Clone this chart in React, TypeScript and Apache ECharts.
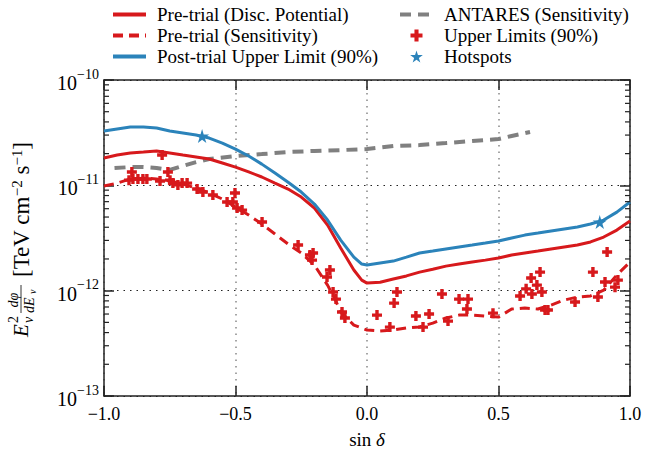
import React, { useEffect, useRef } from "react";
import * as echarts from "echarts";

// ---- data ----
const lineX = [-1.0, -0.95, -0.9, -0.85, -0.8, -0.75, -0.7, -0.65, -0.6, -0.55, -0.5, -0.45, -0.4, -0.35, -0.3, -0.25, -0.2, -0.15, -0.1, -0.05, -0.02, 0.0, 0.05, 0.1, 0.15, 0.2, 0.25, 0.3, 0.35, 0.4, 0.45, 0.5, 0.55, 0.6, 0.65, 0.7, 0.75, 0.8, 0.85, 0.9, 0.95, 1.0];
const postTrialUL = [3.28e-11, 3.43e-11, 3.58e-11, 3.58e-11, 3.5e-11, 3.28e-11, 3.14e-11, 3.0e-11, 2.81e-11, 2.52e-11, 2.21e-11, 1.9e-11, 1.59e-11, 1.31e-11, 1.07e-11, 8.63e-12, 6.64e-12, 4.68e-12, 3.02e-12, 2.08e-12, 1.79e-12, 1.75e-12, 1.83e-12, 1.91e-12, 2.08e-12, 2.28e-12, 2.38e-12, 2.49e-12, 2.6e-12, 2.71e-12, 2.83e-12, 2.96e-12, 3.16e-12, 3.37e-12, 3.52e-12, 3.68e-12, 3.85e-12, 4.02e-12, 4.29e-12, 4.68e-12, 5.57e-12, 6.94e-12];
const discPotential = [1.82e-11, 1.94e-11, 2.03e-11, 2.07e-11, 2.12e-11, 2.03e-11, 1.94e-11, 1.86e-11, 1.78e-11, 1.63e-11, 1.49e-11, 1.34e-11, 1.2e-11, 1.05e-11, 9.22e-12, 7.74e-12, 6.09e-12, 4.2e-12, 2.54e-12, 1.57e-12, 1.26e-12, 1.18e-12, 1.2e-12, 1.29e-12, 1.38e-12, 1.5e-12, 1.6e-12, 1.71e-12, 1.79e-12, 1.87e-12, 1.95e-12, 2.04e-12, 2.18e-12, 2.28e-12, 2.38e-12, 2.49e-12, 2.6e-12, 2.71e-12, 2.9e-12, 3.23e-12, 3.76e-12, 4.58e-12];

const sensX = [-1.0, -0.95, -0.9, -0.85, -0.8, -0.75, -0.7, -0.65, -0.6, -0.55, -0.5, -0.45, -0.4, -0.35, -0.3, -0.25, -0.2, -0.15, -0.12, -0.1, -0.05, 0.0, 0.05, 0.1, 0.15, 0.2, 0.25, 0.3, 0.35, 0.4, 0.45, 0.5, 0.55, 0.6, 0.65, 0.7, 0.75, 0.8, 0.85, 0.9, 0.95, 1.0];
const sensitivity = [9.85e-12, 1.05e-11, 1.15e-11, 1.17e-11, 1.15e-11, 1.1e-11, 1.03e-11, 9.42e-12, 8.45e-12, 7.41e-12, 6.22e-12, 5.22e-12, 4.29e-12, 3.45e-12, 2.77e-12, 2.28e-12, 1.75e-12, 1.13e-12, 8.15e-13, 6.27e-13, 4.71e-13, 4.23e-13, 4.15e-13, 4.23e-13, 4.42e-13, 4.52e-13, 4.92e-13, 5.5e-13, 5.86e-13, 5.86e-13, 5.73e-13, 5.61e-13, 6.69e-13, 6.85e-13, 6.69e-13, 7.3e-13, 8.15e-13, 8.7e-13, 8.9e-13, 1.01e-12, 1.41e-12, 1.87e-12];

const antaresX = [-0.96, -0.9, -0.85, -0.8, -0.75, -0.7, -0.65, -0.6, -0.5, -0.4, -0.3, -0.2, -0.1, 0.0, 0.1, 0.2, 0.3, 0.4, 0.5, 0.55, 0.62];
const antares = [1.46e-11, 1.49e-11, 1.49e-11, 1.46e-11, 1.4e-11, 1.53e-11, 1.66e-11, 1.78e-11, 1.9e-11, 1.98e-11, 2.07e-11, 2.12e-11, 2.16e-11, 2.21e-11, 2.36e-11, 2.41e-11, 2.52e-11, 2.64e-11, 2.75e-11, 2.94e-11, 3.21e-11];

const ulX = [-0.894, -0.905, -0.89, -0.871, -0.852, -0.837, -0.787, -0.779, -0.757, -0.749, -0.738, -0.719, -0.703, -0.684, -0.646, -0.624, -0.586, -0.532, -0.502, -0.51, -0.494, -0.475, -0.399, -0.262, -0.217, -0.205, -0.209, -0.141, -0.152, -0.129, -0.118, -0.095, -0.084, 0.038, 0.087, 0.103, 0.114, 0.186, 0.213, 0.236, 0.285, 0.308, 0.35, 0.38, 0.384, 0.479, 0.582, 0.605, 0.624, 0.627, 0.646, 0.658, 0.665, 0.677, 0.688, 0.791, 0.859, 0.878, 0.905, 0.913, 0.943, 0.954];
const ulY = [1.34e-11, 1.12e-11, 1.15e-11, 1.15e-11, 1.15e-11, 1.15e-11, 1.1e-11, 1.94e-11, 1.34e-11, 1.12e-11, 1.05e-11, 1.01e-11, 1.05e-11, 1.05e-11, 9.22e-12, 8.63e-12, 8.09e-12, 6.94e-12, 8.45e-12, 6.94e-12, 6.09e-12, 5.82e-12, 4.48e-12, 2.71e-12, 2.18e-12, 2.28e-12, 1.95e-12, 1.57e-12, 1.35e-12, 9.7e-13, 8.32e-13, 6.27e-13, 5.5e-13, 5.86e-13, 4.51e-13, 7.62e-13, 9.7e-13, 5.74e-13, 4.51e-13, 6.0e-13, 9.29e-13, 5.14e-13, 8.32e-13, 6.69e-13, 8.32e-13, 6.12e-13, 8.89e-13, 1.04e-12, 1.32e-12, 9.29e-13, 1.13e-12, 1.5e-12, 9.7e-13, 6.55e-13, 6.55e-13, 7.8e-13, 1.5e-12, 8.7e-13, 1.21e-12, 2.33e-12, 1.08e-12, 1.26e-12];

const hotspotX = [-0.627, 0.885];
const hotspotY = [2.94e-11, 4.48e-12];

const xTicks = [-1.0, -0.5, 0.0, 0.5, 1.0];
const yMin = 1e-13;
const yMax = 1e-10;
const minorTicks = [2e-13, 3e-13, 4e-13, 5e-13, 6e-13, 7e-13, 8e-13, 9e-13, 2e-12, 3e-12, 4e-12, 5e-12, 6e-12, 7e-12, 8e-12, 9e-12, 2e-11, 3e-11, 4e-11, 5e-11, 6e-11, 7e-11, 8e-11, 9e-11];

const legendCol1 = ["Pre-trial (Disc. Potential)", "Pre-trial (Sensitivity)", "Post-trial Upper Limit (90%)"];
const legendCol2 = ["ANTARES (Sensitivity)", "Upper Limits (90%)", "Hotspots"];

const RED = "#d7191c";
const BLUE = "#2b83ba";
const GRAY = "#808080";
const INK = "#222";
const FONT = "Liberation Serif";

const PLUS = "path://M3.3,0H6.7V3.3H10V6.7H6.7V10H3.3V6.7H0V3.3H3.3Z";
const STAR = "path://M50,0L61,35L98,35L68,57L79,91L50,70L21,91L32,57L2,35L39,35Z";

export default function App() {
  const ref = useRef<HTMLDivElement>(null);
  useEffect(() => {
    const chart = echarts.init(ref.current!, null, { renderer: "svg" });
    const baseX = {
      type: "value",
      min: xTicks[0],
      max: xTicks[xTicks.length - 1],
      interval: 0.5,
      axisLine: { show: true, onZero: false, lineStyle: { color: INK, width: 1.5 } },
      axisTick: { show: true, inside: true, length: 10, lineStyle: { color: INK, width: 1.5 } },
    };
    const baseY = {
      type: "log",
      logBase: 10,
      min: yMin,
      max: yMax,
      axisLine: { show: true, onZero: false, lineStyle: { color: INK, width: 1.5 } },
      axisTick: { show: true, inside: true, length: 10, lineStyle: { color: INK, width: 1.5 } },
    };
    const lineLegendItem = (name: string) => ({ name, itemStyle: { opacity: 0 }, lineStyle: { width: 4 } });
    const legendBase = {
      orient: "vertical",
      top: 0,
      itemWidth: 33,
      itemHeight: 12,
      itemGap: 2,
      textStyle: { fontFamily: FONT, fontSize: 19, lineHeight: 19, color: "#000", padding: [0, 0, 0, 6] },
    };
    const option: any = {
      animation: false,
      backgroundColor: "#fff",
      textStyle: { fontFamily: FONT },
      grid: { left: 104, right: 15, top: 80, bottom: 60, containLabel: false },
      legend: [
        { ...legendBase, left: 106, data: legendCol1.map(lineLegendItem) },
        {
          ...legendBase,
          left: 393,
          data: [lineLegendItem(legendCol2[0]), { name: legendCol2[1] }, { name: legendCol2[2] }],
        },
      ],
      xAxis: [
        {
          ...baseX,
          position: "bottom",
          axisLabel: {
            margin: 9,
            color: "#000",
            fontFamily: FONT,
            fontSize: 18,
            formatter: (v: number) => (v < 0 ? "\u2212" : "") + Math.abs(v).toFixed(1),
          },
          splitLine: { show: true, lineStyle: { color: "#888", width: 1.5, type: [1.5, 5] } },
          name: "{r|sin }{i|δ}",
          nameLocation: "middle",
          nameGap: 34,
          nameTextStyle: {
            rich: {
              r: { fontFamily: FONT, fontSize: 19, color: "#000" },
              i: { fontFamily: FONT, fontSize: 19, fontStyle: "italic", color: "#000" },
            },
          },
        },
        { ...baseX, position: "top", axisLabel: { show: false }, splitLine: { show: false } },
      ],
      yAxis: [
        {
          ...baseY,
          position: "left",
          axisLabel: {
            margin: 5,
            color: "#000",
            formatter: (v: number) => `{b|10}{s|\u2212${-Math.round(Math.log10(v))}}`,
            rich: {
              b: { fontFamily: FONT, fontSize: 20, lineHeight: 26, verticalAlign: "bottom", color: "#000" },
              s: { fontFamily: FONT, fontSize: 14, lineHeight: 14, verticalAlign: "top", color: "#000" },
            },
          },
          splitLine: { show: true, lineStyle: { color: INK, width: 1.2, type: [1.5, 5] } },
        },
        { ...baseY, position: "right", axisLabel: { show: false }, splitLine: { show: false } },
      ],
      graphic: [
        {
          type: "group",
          x: 21,
          y: 337,
          rotation: Math.PI / 2,
          children: [
            { type: "text", x: 0, y: 0, style: { text: "E", font: `italic 21px ${FONT}`, fill: "#000", verticalAlign: "middle" } },
            { type: "text", x: 14, y: -8, style: { text: "2", font: `14px ${FONT}`, fill: "#000", verticalAlign: "middle" } },
            { type: "text", x: 14, y: 7, style: { text: "ν", font: `italic 14px ${FONT}`, fill: "#000", verticalAlign: "middle" } },
            { type: "text", x: 37, y: -8, style: { text: "dφ", font: `italic 14px ${FONT}`, fill: "#000", align: "center", verticalAlign: "middle" } },
            { type: "line", shape: { x1: 24, y1: 0, x2: 52, y2: 0 }, style: { stroke: "#000", lineWidth: 0.8 } },
            { type: "text", x: 24, y: 8, style: { text: "dE", font: `italic 14px ${FONT}`, fill: "#000", verticalAlign: "middle" } },
            { type: "text", x: 43, y: 11, style: { text: "ν", font: `italic 10px ${FONT}`, fill: "#000", verticalAlign: "middle" } },
            {
              type: "text",
              x: 60,
              y: 0,
              style: {
                text: "[TeV cm{s|\u22122} s{s|\u22121}]",
                font: `23px ${FONT}`,
                fill: "#000",
                verticalAlign: "middle",
                rich: {
                  s: { fontFamily: FONT, fontSize: 15, verticalAlign: "top", lineHeight: 15, padding: [0, 0, 8, 0] },
                },
              },
            },
          ],
        },
      ],
      series: [
        {
          name: legendCol1[0],
          type: "line",
          data: lineX.map((x, i) => [x, discPotential[i]]),
          symbol: "none",
          showSymbol: false,
          lineStyle: { color: RED, width: 3 },
          itemStyle: { color: RED },
          z: 3,
        },
        {
          name: legendCol1[1],
          type: "line",
          data: sensX.map((x, i) => [x, sensitivity[i]]),
          symbol: "none",
          showSymbol: false,
          lineStyle: { color: RED, width: 3, type: [10, 6] },
          itemStyle: { color: RED },
          z: 3,
        },
        {
          name: legendCol1[2],
          type: "line",
          data: lineX.map((x, i) => [x, postTrialUL[i]]),
          symbol: "none",
          showSymbol: false,
          lineStyle: { color: BLUE, width: 3 },
          itemStyle: { color: BLUE },
          z: 3,
        },
        {
          name: legendCol2[0],
          type: "line",
          data: antaresX.map((x, i) => [x, antares[i]]),
          symbol: "none",
          showSymbol: false,
          lineStyle: { color: GRAY, width: 4, type: [11, 7] },
          itemStyle: { color: GRAY },
          z: 2,
        },
        {
          name: legendCol2[1],
          type: "scatter",
          data: ulX.map((x, i) => [x, ulY[i]]),
          symbol: PLUS,
          symbolSize: 10,
          itemStyle: { color: RED, opacity: 1 },
          z: 5,
        },
        {
          name: legendCol2[2],
          type: "scatter",
          data: hotspotX.map((x, i) => [x, hotspotY[i]]),
          symbol: STAR,
          symbolSize: 14,
          itemStyle: { color: BLUE, opacity: 1 },
          z: 6,
        },
        {
          name: "minor ticks",
          type: "custom",
          silent: true,
          data: minorTicks.map((v) => [xTicks[0], v]),
          renderItem: (_params: any, api: any) => {
            const v = api.value(1);
            const l = api.coord([xTicks[0], v]);
            const r = api.coord([xTicks[xTicks.length - 1], v]);
            return {
              type: "group",
              children: [
                { type: "line", shape: { x1: l[0], y1: l[1], x2: l[0] + 5, y2: l[1] }, style: { stroke: INK, lineWidth: 1.2 } },
                { type: "line", shape: { x1: r[0] - 5, y1: r[1], x2: r[0], y2: r[1] }, style: { stroke: INK, lineWidth: 1.2 } },
              ],
            };
          },
          z: 10,
        },
      ],
    };
    chart.setOption(option);
    return () => chart.dispose();
  }, []);
  return <div ref={ref} style={{ position: "fixed", left: 0, top: 0, width: 645, height: 456 }} />;
}
